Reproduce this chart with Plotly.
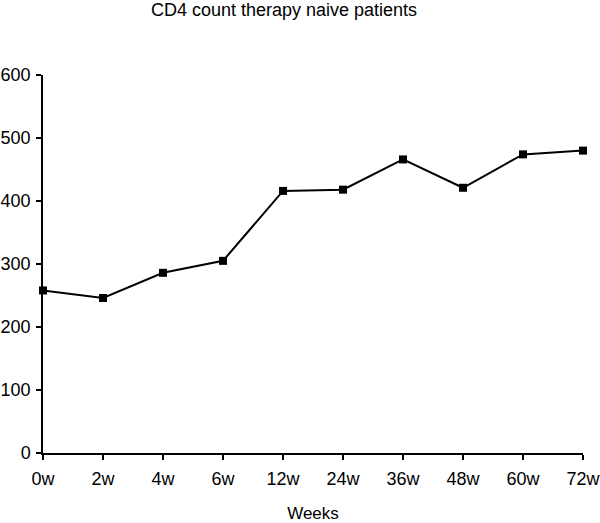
import plotly.graph_objects as go

weeks = ["0w", "2w", "4w", "6w", "12w", "24w", "36w", "48w", "60w", "72w"]
cd4_count = [258, 246, 286, 305, 416, 418, 466, 421, 474, 480]
y_ticks = [0, 100, 200, 300, 400, 500, 600]

font_family = "Arial, Liberation Sans, Helvetica, sans-serif"

fig = go.Figure()
fig.add_trace(go.Scatter(
    x=weeks, y=cd4_count,
    mode="lines+markers",
    line=dict(color="black", width=2),
    marker=dict(symbol="square", size=8, color="black"),
    cliponaxis=False,
    showlegend=False,
))

fig.update_layout(
    width=600, height=523,
    margin=dict(l=43, r=17, t=75, b=70, autoexpand=False),
    paper_bgcolor="white", plot_bgcolor="white",
    font=dict(family=font_family, color="black", size=17),
    title=dict(text="CD4 count therapy naive patients",
               x=284/600, xref="container", xanchor="center",
               y=1 - 10/523, yref="container", yanchor="middle",
               font=dict(size=18, color="black", family=font_family)),
    xaxis=dict(
        type="category", range=[0, 9], automargin=False,
        showline=True, linecolor="black", linewidth=1.5,
        ticks="outside", ticklen=5, tickcolor="black", tickwidth=1.5,
        showgrid=False, zeroline=False,
        tickfont=dict(size=18), ticklabelstandoff=4,
        title=dict(text="Weeks", font=dict(size=17), standoff=20),
    ),
    yaxis=dict(
        range=[0, 600], tickvals=y_ticks, automargin=False,
        showline=True, linecolor="black", linewidth=1.5,
        ticks="outside", ticklen=5, tickcolor="black", tickwidth=1.5,
        showgrid=False, zeroline=False,
        tickfont=dict(size=18), ticklabelstandoff=2,
    ),
)

fig.write_html("out.html", config={"displayModeBar": False},
               post_script="document.body.style.margin='0';")
